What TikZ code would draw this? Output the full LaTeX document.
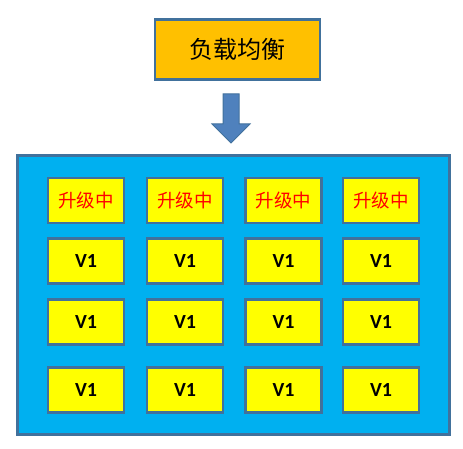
\documentclass[tikz,border=0pt]{standalone}
\usepackage{fontspec}
\setmainfont{Carlito}
\newfontfamily\cjk{Noto Sans CJK SC}
\definecolor{lborange}{HTML}{FFC000}
\definecolor{lbblue}{HTML}{00B0F0}
\definecolor{lbyellow}{HTML}{FFFF00}
\definecolor{lbedge}{HTML}{41719C}
\definecolor{lbarrow}{HTML}{4F81BD}
\begin{document}
\begin{tikzpicture}[x=1pt,y=-1pt,
  lbbox/.style={draw=lbedge,line width=2.2pt,fill=lborange,minimum width=165pt,minimum height=60pt,inner sep=0pt,font=\cjk\fontsize{24}{28}\selectfont},
  pool/.style={draw=lbedge,line width=2.2pt,fill=lbblue,minimum width=432pt,minimum height=279pt,inner sep=0pt},
  upgrade/.style={draw=lbedge,line width=2.2pt,fill=lbyellow,minimum width=76pt,minimum height=45pt,inner sep=0pt,text=red,font=\cjk\fontsize{18.5}{22}\selectfont},
  ver/.style={draw=lbedge,line width=2.2pt,fill=lbyellow,minimum width=76pt,minimum height=45pt,inner sep=0pt,font=\bfseries\fontsize{20}{24}\selectfont},
  arrowshape/.style={draw=lbedge,line width=1pt,fill=lbarrow}]
\useasboundingbox (0,0) rectangle (463,449);
\node[lbbox] (lb) at (237.5,49.5) {负载均衡};
\filldraw[arrowshape] (223,94) -- (239,94) -- (239,124) -- (250,124) -- (231,143) -- (212,124) -- (223,124) -- cycle;
\node[pool] (pool) at (233.5,295) {};
\foreach \c/\x in {1/86,2/185,3/283.5,4/381}{
  \node[upgrade] (u\c) at (\x,200.5) {升级中};
  \node[ver] (a\c) at (\x,261) {V1};
  \node[ver] (b\c) at (\x,322) {V1};
  \node[ver] (c\c) at (\x,390) {V1};
}
\end{tikzpicture}
\end{document}
